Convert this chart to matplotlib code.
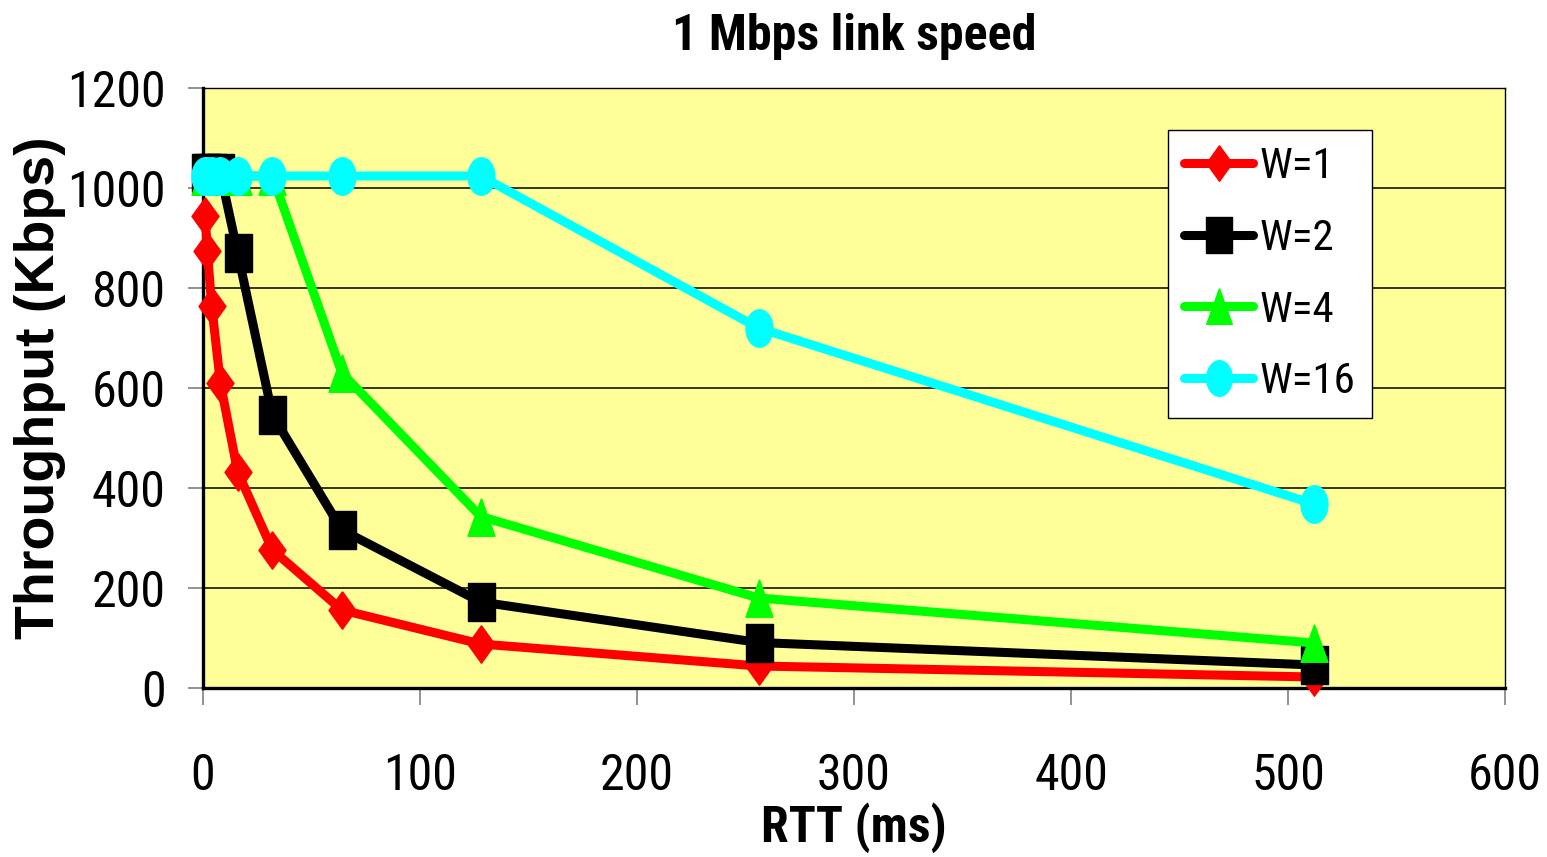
import numpy as np
import matplotlib
matplotlib.use("Agg")
import matplotlib.pyplot as plt
from matplotlib import font_manager

# Throughput (Kbps) versus round-trip time for several window sizes
rtt_ms = [1, 2, 4, 8, 16, 32, 64, 128, 256, 512]
w1 = [945, 875, 765, 610, 432, 276, 156, 88, 44, 22]
w2 = [1030, 1030, 1030, 1030, 870, 546, 316, 172, 91, 46]
w4 = [1024, 1024, 1024, 1024, 1024, 1024, 630, 343, 180, 90]
w16 = [1024, 1024, 1024, 1024, 1024, 1024, 1024, 1024, 720, 368]

series_labels = ["W=1", "W=2", "W=4", "W=16"]
series_values = [w1, w2, w4, w16]
series_colors = ["#FF0000", "#000000", "#00FF00", "#00FFFF"]

x_ticks = [0, 100, 200, 300, 400, 500, 600]
y_ticks = [0, 200, 400, 600, 800, 1000, 1200]


def pick_family(candidates, need_bold=True):
    weights = {}
    for f in font_manager.fontManager.ttflist:
        weights.setdefault(f.name, set()).add(f.weight)
    for name in candidates:
        w = weights.get(name)
        if w and (not need_bold or any(int(x) >= 600 for x in w if str(x).isdigit())):
            return name
    return None


narrow_name = pick_family(["Nimbus Sans Narrow", "Liberation Sans Narrow", "Arial Narrow",
                           "Archivo Narrow", "Roboto Condensed", "PT Sans Narrow",
                           "Pragati Narrow", "Encode Sans Condensed",
                           "IBM Plex Sans Condensed", "Fira Sans Condensed",
                           "Barlow Semi Condensed"])
regular_name = pick_family(["Liberation Sans", "Arimo", "Nimbus Sans", "Roboto", "DejaVu Sans"])

if narrow_name:
    NARROW = dict(family=[narrow_name, "DejaVu Sans"])
else:
    NARROW = dict(family=["DejaVu Sans"], stretch="condensed")
REGULAR = dict(family=[regular_name or "DejaVu Sans", "DejaVu Sans"])

# Tall marker shapes (height about 1.37x width)
ar = 0.72
theta = np.linspace(0, 2 * np.pi, 41)
m_diamond = [(0, 1), (ar, 0), (0, -1), (-ar, 0), (0, 1)]
m_square = [(-ar, -1), (ar, -1), (ar, 1), (-ar, 1), (-ar, -1)]
m_triangle = [(0, 1), (ar, -1), (-ar, -1), (0, 1)]
m_ellipse = list(zip(ar * np.cos(theta), np.sin(theta)))
markers = [m_diamond, m_square, m_triangle, m_ellipse]

fig = plt.figure(figsize=(15.47, 8.57), dpi=100)
fig.patch.set_facecolor("white")
ax = fig.add_axes([203 / 1547, 1 - 688 / 857, 1302 / 1547, 600 / 857])
ax.set_facecolor("#FFFF99")

for vals, lab, col, mk in zip(series_values, series_labels, series_colors, markers):
    ax.plot(rtt_ms, vals, color=col, lw=6.5, marker=mk, markersize=27,
            markerfacecolor=col, markeredgecolor=col, markeredgewidth=1,
            label=lab, clip_on=False, solid_capstyle="round", zorder=3)

ax.set_xlim(0, 600)
ax.set_ylim(0, 1200)
ax.set_xticks(x_ticks)
ax.set_yticks(y_ticks)
ax.set_xticklabels([str(v) for v in x_ticks], fontsize=36, **NARROW)
ax.set_yticklabels([str(v) for v in y_ticks], fontsize=36, **NARROW)
ax.tick_params(axis="x", direction="out", length=12, width=1.2, color="#808080", pad=34)
ax.tick_params(axis="y", direction="out", length=11, width=1.2, color="#808080", pad=16)

ax.yaxis.grid(True, color="black", lw=1.1, zorder=1)
ax.set_axisbelow(True)

for side in ("left", "bottom"):
    ax.spines[side].set_linewidth(2.4)
    ax.spines[side].set_color("black")
for side in ("top", "right"):
    ax.spines[side].set_linewidth(1.0)
    ax.spines[side].set_color("black")

ax.set_title("1 Mbps link speed", fontweight="bold", fontsize=36, pad=27, **NARROW)
ax.set_xlabel("RTT (ms)", fontweight="bold", fontsize=36, **NARROW)
ax.xaxis.set_label_coords(0.5, -0.19)
ax.set_ylabel("Throughput (Kbps)", fontweight="bold", fontsize=40, **REGULAR)
ax.yaxis.set_label_coords(-0.105, 0.5)

prop = dict(size=31)
prop.update(NARROW)
leg = ax.legend(loc="upper left", bbox_to_anchor=(0.741, 0.93), frameon=True,
                fancybox=False, shadow=False, prop=prop,
                handlelength=1.6, handletextpad=0.15, labelspacing=0.71,
                borderpad=0.38, borderaxespad=0, markerscale=0.95)
leg.get_frame().set_edgecolor("black")
leg.get_frame().set_linewidth(1.0)
leg.get_frame().set_facecolor("white")
leg.get_frame().set_alpha(1)

fig.savefig("out.png", dpi=100)
